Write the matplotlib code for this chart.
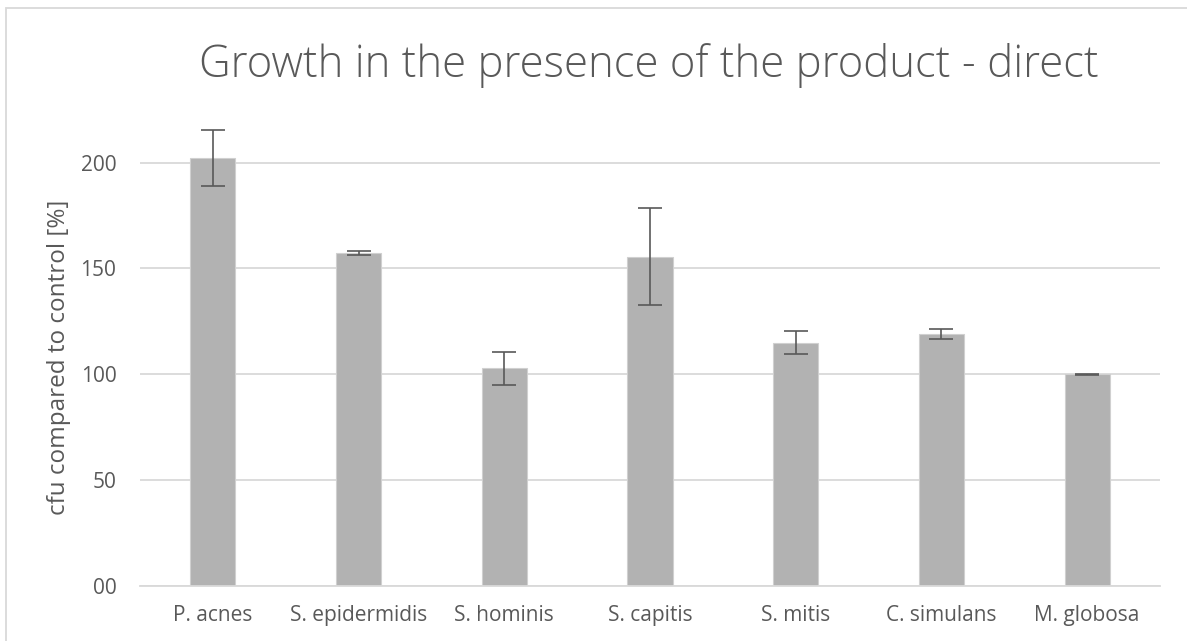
import numpy as np
import matplotlib
matplotlib.use('Agg')
from matplotlib import pyplot as plt
from matplotlib.patches import Rectangle

# data
species = ['P. acnes', 'S. epidermidis', 'S. hominis', 'S. capitis',
           'S. mitis', 'C. simulans', 'M. globosa']
growth = [202.0, 157.2, 102.8, 155.5, 114.8, 119.1, 99.9]
growth_err = [13.2, 1.1, 7.9, 22.8, 5.4, 2.3, 0.3]
yticks = [0, 50, 100, 150, 200]
ytick_labels = ['00', '50', '100', '150', '200']
title = 'Growth in the presence of the product - direct'
ylabel = 'cfu compared to control [%]'

plt.rcParams['font.family'] = ['Open Sans', 'DejaVu Sans']
text_col = '#595959'
grid_col = '#d9d9d9'

fig = plt.figure(figsize=(11.87, 6.41), dpi=100)
ax = fig.add_axes([140/1187, 55.3/641, 1020/1187, 476/641])

x = np.arange(len(species))
ax.bar(x, growth, width=0.31, color='#b2b2b2', edgecolor='#d0d0d0', linewidth=0.8, zorder=2)
ax.errorbar(x, growth, yerr=growth_err, fmt='none', ecolor='#595959',
            elinewidth=1.2, capsize=8.5, capthick=1.2, zorder=3)

ax.set_xlim(-0.5, len(species) - 0.5)
ax.set_ylim(0, 225)
ax.set_yticks(yticks)
ax.set_yticklabels(ytick_labels)
ax.set_xticks(x)
ax.set_xticklabels(species)
ax.tick_params(axis='y', length=0, pad=17, labelsize=15, labelcolor=text_col)
ax.tick_params(axis='x', length=0, pad=14, labelsize=15, labelcolor=text_col)

ax.yaxis.grid(True, color=grid_col, linewidth=1.3, zorder=0)
ax.set_axisbelow(True)
for s in ['top', 'right', 'left']:
    ax.spines[s].set_visible(False)
ax.spines['bottom'].set_color(grid_col)
ax.spines['bottom'].set_linewidth(1.3)

ax.set_ylabel(ylabel, fontsize=17.5, color=text_col)
ax.yaxis.set_label_coords((71 - 140)/1020, 0.48)

fig.text(649/1187, (641-66)/641, title, ha='center', va='center',
         fontsize=31.5, color=text_col, fontweight='light')

# outer chart frame (cut off at the right and bottom)
fig.add_artist(Rectangle((6/1187, -0.1), 1.5, (641-8)/641 + 0.1,
                         transform=fig.transFigure, fill=False,
                         edgecolor=grid_col, linewidth=1.3))

fig.savefig('out.png', dpi=100)
